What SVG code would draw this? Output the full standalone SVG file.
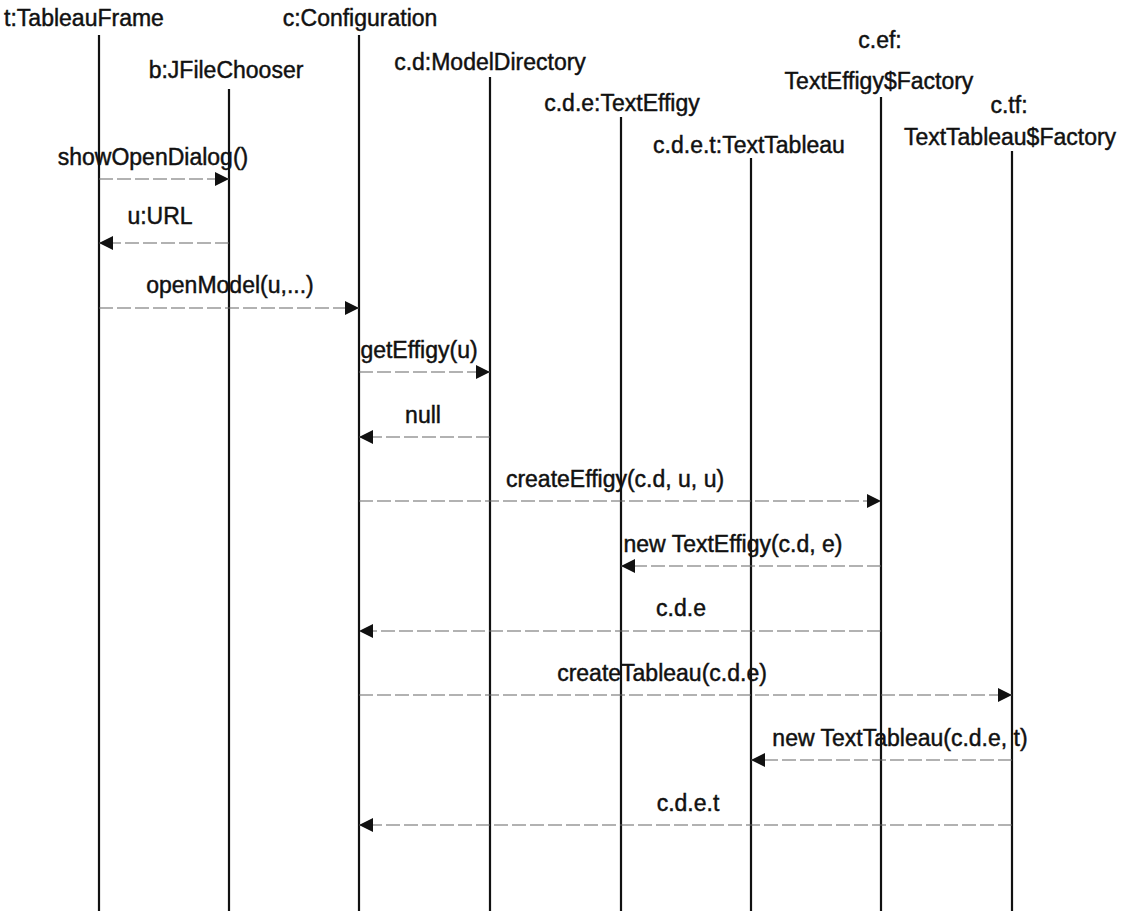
<svg xmlns="http://www.w3.org/2000/svg" width="1131" height="911" viewBox="0 0 1131 911">
<style>
  text { font-family: "Liberation Sans", Arial, sans-serif; font-size: 23px; fill: #111; stroke: #111; stroke-width: 0.45; text-anchor: middle; }
  .life { stroke: #111; stroke-width: 2.2; fill: none; }
  .msg { stroke: #666; stroke-width: 1.2; fill: none; stroke-dasharray: 14 4; marker-end: url(#ah); }
</style>
<defs>
  <marker id="ah" viewBox="0 0 14 14" refX="14" refY="7" markerWidth="14" markerHeight="14" markerUnits="userSpaceOnUse" orient="auto">
    <path d="M0,0 L14,7 L0,14 Z" fill="#111"/>
  </marker>
</defs>
<rect width="1131" height="911" fill="#fff"/>

<g id="node-tableauframe">
  <text x="84" y="26">t:TableauFrame</text>
  <line class="life" x1="99" y1="35" x2="99" y2="911"/>
</g>
<g id="node-jfilechooser">
  <text x="226" y="78">b:JFileChooser</text>
  <line class="life" x1="229" y1="89" x2="229" y2="911"/>
</g>
<g id="node-configuration">
  <text x="360" y="26">c:Configuration</text>
  <line class="life" x1="359" y1="35" x2="359" y2="911"/>
</g>
<g id="node-modeldirectory">
  <text x="490" y="70">c.d:ModelDirectory</text>
  <line class="life" x1="490" y1="77" x2="490" y2="911"/>
</g>
<g id="node-texteffigy">
  <text x="622" y="111">c.d.e:TextEffigy</text>
  <line class="life" x1="621" y1="117" x2="621" y2="911"/>
</g>
<g id="node-texttableau">
  <text x="749" y="153">c.d.e.t:TextTableau</text>
  <line class="life" x1="751" y1="158" x2="751" y2="911"/>
</g>
<g id="node-effigyfactory">
  <text x="880" y="48">c.ef:</text>
  <text x="879" y="89">TextEffigy$Factory</text>
  <line class="life" x1="881" y1="97" x2="881" y2="911"/>
</g>
<g id="node-tableaufactory">
  <text x="1009" y="113">c.tf:</text>
  <text x="1010" y="145">TextTableau$Factory</text>
  <line class="life" x1="1012" y1="151" x2="1012" y2="911"/>
</g>

<g id="connectors">
  <line class="msg" x1="99" y1="179" x2="229" y2="179"/>
  <text x="153" y="165">showOpenDialog()</text>

  <line class="msg" x1="229" y1="243" x2="99" y2="243"/>
  <text x="160" y="224">u:URL</text>

  <line class="msg" x1="99" y1="308" x2="359" y2="308"/>
  <text x="230" y="293">openModel(u,...)</text>

  <line class="msg" x1="359" y1="372" x2="490" y2="372"/>
  <text x="419" y="358">getEffigy(u)</text>

  <line class="msg" x1="490" y1="437" x2="359" y2="437"/>
  <text x="423" y="423">null</text>

  <line class="msg" x1="359" y1="501" x2="881" y2="501"/>
  <text x="615" y="487">createEffigy(c.d, u, u)</text>

  <line class="msg" x1="881" y1="566" x2="621" y2="566"/>
  <text x="733" y="552">new TextEffigy(c.d, e)</text>

  <line class="msg" x1="881" y1="631" x2="359" y2="631"/>
  <text x="681" y="616">c.d.e</text>

  <line class="msg" x1="359" y1="695" x2="1012" y2="695"/>
  <text x="662" y="681">createTableau(c.d.e)</text>

  <line class="msg" x1="1012" y1="760" x2="751" y2="760"/>
  <text x="900" y="746">new TextTableau(c.d.e, t)</text>

  <line class="msg" x1="1012" y1="825" x2="359" y2="825"/>
  <text x="688" y="811">c.d.e.t</text>
</g>
</svg>
